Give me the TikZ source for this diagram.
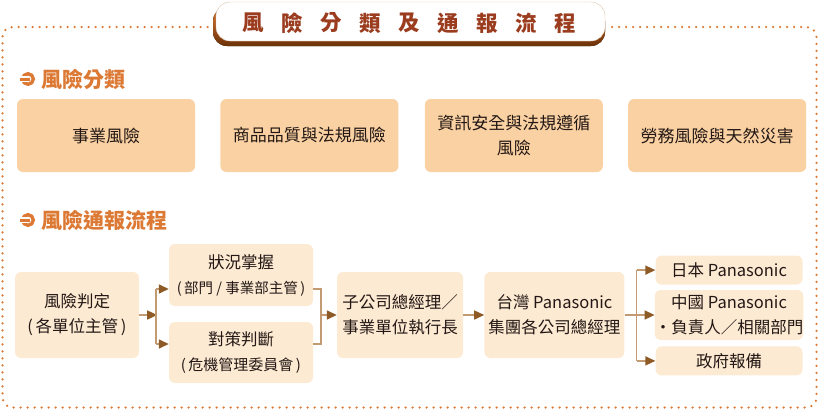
\documentclass[tikz,border=0pt]{standalone}
\usepackage{fontspec}
\usepackage{xcolor}
\usepackage{tikz}
\usetikzlibrary{calc, arrows.meta, positioning}
\newfontfamily\cjk{Noto Sans CJK TC}
\definecolor{riskOrange}{HTML}{DC7A35}
\definecolor{titleRed}{HTML}{9B3C1E}
\definecolor{catFill}{HTML}{FAD1A2}
\definecolor{flowFill}{HTML}{FDEAD3}
\definecolor{tipBrown}{HTML}{8E5A26}
\definecolor{lineTan}{HTML}{C39B72}
\definecolor{textDark}{HTML}{231815}
\definecolor{shadowBrown}{HTML}{6B3108}
\newcommand\subline[2][16.5]{{\fontsize{#1}{25}\selectfont(\,#2\,)}}

\begin{document}
\begin{tikzpicture}[
    x=1pt, y=-1pt,
    node distance=25pt,
    catbox/.style={rectangle, rounded corners=6pt, fill=catFill, minimum width=178pt, minimum height=73pt, inner sep=0pt, align=center, text=textDark, font=\cjk\fontsize{17}{25}\selectfont},
    flowbox/.style={rectangle, rounded corners=6pt, fill=flowFill, inner sep=0pt, align=center, text=textDark, font=\cjk\fontsize{16.5}{25}\selectfont},
    titlebox/.style={rectangle, rounded corners=14pt, fill=white, draw=lineTan!60, minimum width=389pt, minimum height=39pt},
    titlechar/.style={inner sep=0pt, text=titleRed, font=\cjk\bfseries\fontsize{21.5}{21.5}\selectfont},
    heading/.style={anchor=west, inner sep=0pt, text=riskOrange, font=\cjk\bfseries\fontsize{21}{21}\selectfont},
    headmark/.pic={
        \draw[riskOrange, line width=3.4pt] (0,0) circle (5.3);
        \fill[white] (-9,-3.3) rectangle (0,3.3);
        \draw[riskOrange, line width=3pt] (-8,0) -- (2,0);
    },
    arrow/.style={-{Triangle[length=10pt, width=9pt, color=tipBrown]}, line width=1.5pt, lineTan},
    link/.style={line width=1.5pt, lineTan},
    dotborder/.style={riskOrange, line width=2.5pt, line cap=round, dash pattern=on 0pt off 7pt, rounded corners=10pt}
]
\useasboundingbox (0,0) rectangle (819,410);

% Frame and title
\draw[dotborder] (612,27) -- (816.5,27) -- (816.5,407.5) -- (2.5,407.5) -- (2.5,27) -- (208,27);
\fill[top color=riskOrange, bottom color=shadowBrown, rounded corners=14pt] (213,7) rectangle (605,46);
\node[titlebox] (title) at (410.5,21.5) {};
\foreach \ch [count=\i] in {風,險,分,類,及,通,報,流,程}
    \node[titlechar] (t\i) at (253+39*\i-39, 23) {\ch};

% Risk categories
\pic at (28,79) {headmark};
\node[heading] (hcat) at (41,79) {風險分類};
\node[catbox] (cat1) at (106,135.5) {事業風險};
\node[catbox, right=of cat1] (cat2) {商品品質與法規風險};
\node[catbox, right=26pt of cat2] (cat3) {資訊安全與法規遵循\\風險};
\node[catbox, right=of cat3] (cat4) {勞務風險與天然災害};

% Reporting flow
\pic at (28,220) {headmark};
\node[heading] (hflow) at (41,220) {風險通報流程};
\node[flowbox, minimum width=124pt, minimum height=86pt] (judge) at (77,315) {風險判定\\\subline{各單位主管}};
\node[flowbox, minimum width=144pt, minimum height=62pt] (grasp) at (241,275) {狀況掌握\\\subline[14.5]{部門 / 事業部主管}};
\node[flowbox, minimum width=144pt, minimum height=61pt] (counter) at (241,352.5) {對策判斷\\\subline[15]{危機管理委員會}};
\node[flowbox, minimum width=126pt, minimum height=86pt] (sub) at (400,315) {子公司總經理／\\事業單位執行長};
\node[flowbox, minimum width=140pt, minimum height=86pt, right=21pt of sub] (tw) {台灣 Panasonic\\集團各公司總經理};
\node[flowbox, minimum width=147pt, minimum height=50pt, right=30pt of tw] (cn) {中國 Panasonic\\・負責人／相關部門};
\node[flowbox, minimum width=147pt, minimum height=29pt, above=5pt of cn] (jp) {日本 Panasonic};
\node[flowbox, minimum width=147pt, minimum height=29pt, below=6pt of cn] (gov) {政府報備};

% Edges
\draw[arrow] (judge.east) -- ++(18,0) coordinate (jsplit);
\coordinate (gin) at (156,289);
\coordinate (cin) at (156,344);
\draw[link] (gin) -- (cin);
\draw[arrow] (gin) -- (gin -| grasp.west);
\draw[arrow] (cin) -- (cin -| counter.west);

\coordinate (gout) at (321,289);
\coordinate (cout) at (321,344);
\draw[link] (gout -| grasp.east) -- (gout) -- (cout) -- (cout -| counter.east);
\draw[arrow] (gout |- sub.west) -- (sub.west);
\draw[arrow] (sub) -- (tw);

\draw[link] (tw.east) -- ++(12,0) coordinate (tsplit);
\draw[link] (tsplit |- jp) -- (tsplit |- gov);
\draw[arrow] (tsplit |- jp) -- (jp);
\draw[arrow] (tsplit) -- (cn);
\draw[arrow] (tsplit |- gov) -- (gov);

\end{tikzpicture}
\end{document}
